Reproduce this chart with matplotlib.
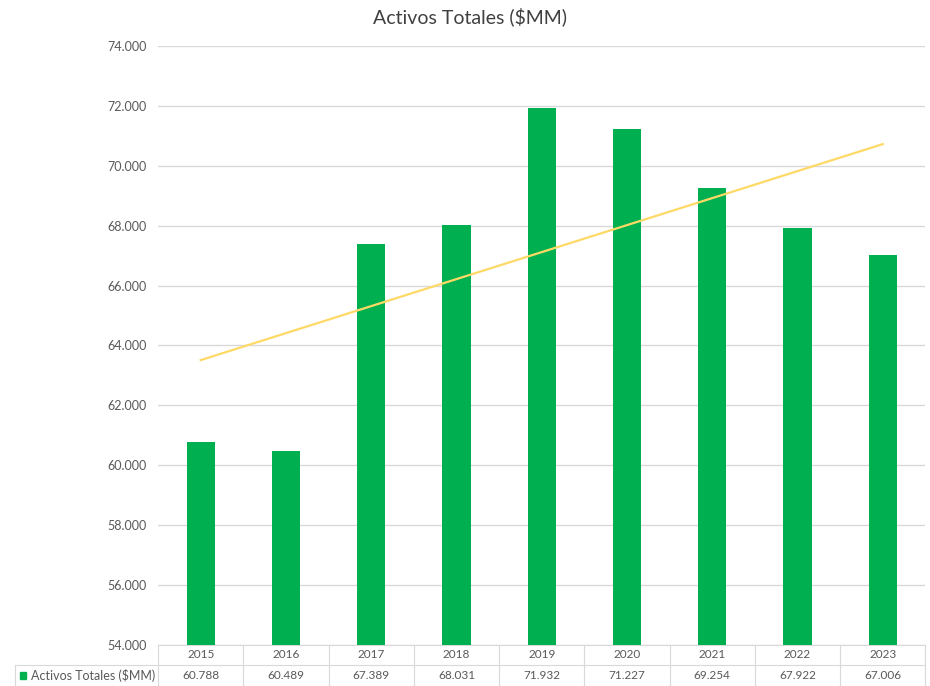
import numpy as np
import matplotlib
matplotlib.use('Agg')
from matplotlib import pyplot as plt
from matplotlib.lines import Line2D
from matplotlib.patches import Rectangle

years = ['2015', '2016', '2017', '2018', '2019', '2020', '2021', '2022', '2023']
activos = [60788, 60489, 67389, 68031, 71932, 71227, 69254, 67922, 67006]
series_name = 'Activos Totales ($MM)'
y_ticks = [54000, 56000, 58000, 60000, 62000, 64000, 66000, 68000, 70000, 72000, 74000]

green = '#00B050'
trend_col = '#FFD966'
grid_col = '#D9D9D9'
text_col = '#595959'

plt.rcParams['font.family'] = ['Lato', 'DejaVu Sans']


def fmt(v):
    return f"{v:,.0f}".replace(',', '.')


fig = plt.figure(figsize=(9.3, 6.86), dpi=100)
ax = fig.add_axes([0.170, 0.060, 0.825, 0.873])

x = np.arange(len(years))
ax.bar(x, activos, width=0.33, color=green, zorder=3)

# linear trendline like excel
m, b = np.polyfit(x, activos, 1)
ax.plot(x, m * x + b, color=trend_col, lw=1.6, zorder=4)

ax.set_xlim(-0.5, len(years) - 0.5)
ax.set_ylim(y_ticks[0], y_ticks[-1])
ax.set_yticks(y_ticks)
ax.set_yticklabels([fmt(t) for t in y_ticks], color=text_col, fontsize=9)
ax.tick_params(axis='y', length=0, pad=8)
ax.set_xticks([])
ax.grid(axis='y', color=grid_col, lw=1, zorder=0)
for s in ax.spines.values():
    s.set_visible(False)

fig.text(0.505, 0.975, 'Activos Totales ($MM)', ha='center', va='center', fontsize=14, color='#404040')

# data table under the plot
tr = ax.get_xaxis_transform()
r1 = -20 / 599
r2 = -41 / 599
lw = 0.8
left_x = -0.5 - (158 - 15) / (767 / 9)
kw = dict(transform=tr, color=grid_col, lw=lw, clip_on=False)
ax.add_line(Line2D([-0.5, len(years) - 0.5], [0, 0], **kw))
ax.add_line(Line2D([left_x, len(years) - 0.5], [r1, r1], **kw))
ax.add_line(Line2D([left_x, len(years) - 0.5], [r2, r2], **kw))
ax.add_line(Line2D([left_x, left_x], [r1, r2], **kw))
for i in range(len(years) + 1):
    ax.add_line(Line2D([i - 0.5, i - 0.5], [0, r2], **kw))
for i, (yr, v) in enumerate(zip(years, activos)):
    ax.text(i, r1 / 2, yr, transform=tr, ha='center', va='center', fontsize=8.5, color=text_col)
    ax.text(i, (r1 + r2) / 2, fmt(v), transform=tr, ha='center', va='center', fontsize=8.5, color=text_col)
ax.text(-0.53, (r1 + r2) / 2, series_name, transform=tr, ha='right', va='center', fontsize=9, color=text_col)
ax.add_patch(Rectangle((left_x + 0.06, (r1 + r2) / 2 - 0.006), 0.065, 0.012, transform=tr,
                       color=green, clip_on=False))

fig.savefig('out.png', dpi=100)
